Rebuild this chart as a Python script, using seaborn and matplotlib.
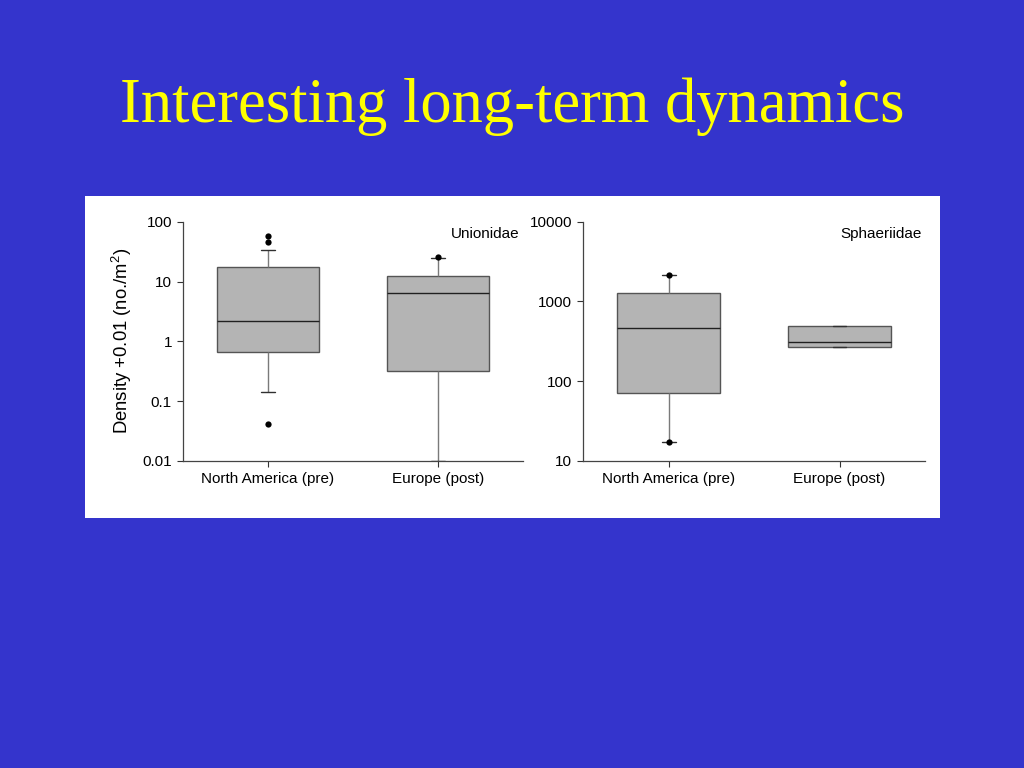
import numpy as np
import pandas as pd
import seaborn as sns
import matplotlib
matplotlib.use("Agg")
from matplotlib import pyplot as plt
from matplotlib.patches import Rectangle

# values (5 values per group: low whisker, Q1, median, Q3, high whisker)
categories = ["North America (pre)", "Europe (post)"]
union_na = [0.14, 0.67, 2.2, 17.6, 33.4]
union_eu = [0.01, 0.32, 6.4, 12.3, 25.0]
union_na_out = [58.0, 45.0, 0.042]
union_eu_out = [26.0]
sphae_na = [17.2, 70.6, 463, 1260, 2160]
sphae_eu = [272, 272, 312, 495, 495]
sphae_na_out = [17.2, 2160]
sphae_eu_out = []

BLUE = "#3434CC"
BOX_FILL = "#B4B4B4"

sns.set_style("ticks")
plt.rcParams["font.family"] = ["Liberation Sans", "DejaVu Sans"]
plt.rcParams["mathtext.fontset"] = "custom"
plt.rcParams["mathtext.rm"] = "Liberation Sans"
plt.rcParams["text.color"] = "black"
plt.rcParams["axes.labelcolor"] = "black"


def frame(na, eu):
    return pd.DataFrame({"region": [categories[0]] * len(na) + [categories[1]] * len(eu),
                         "density": list(na) + list(eu)})


def panel(ax, box, out, ylim, yticks, label):
    sns.boxplot(data=box, x="region", y="density", order=categories, ax=ax,
                log_scale=True, whis=(0, 100), showfliers=False, width=0.6,
                color=BOX_FILL, saturation=1, linecolor="#555555", linewidth=1,
                capwidths=0.08,
                medianprops={"color": "#202020"},
                whiskerprops={"color": "#7a7a7a"},
                capprops={"color": "#303030"})
    if len(out):
        sns.stripplot(data=out, x="region", y="density", order=categories, ax=ax,
                      jitter=False, color="black", size=4.5, zorder=5)
    ax.set_yscale("log")
    ax.set_ylim(*ylim)
    ax.set_yticks(yticks)
    ax.set_yticklabels([f"{t:g}" for t in yticks])
    ax.minorticks_off()
    ax.set_xlim(-0.5, 1.5)
    ax.set_xlabel("")
    ax.set_ylabel("")
    ax.tick_params(axis="both", direction="out", length=4, width=0.8,
                   color="#333333", labelsize=11, labelcolor="black", pad=4)
    for s in ["top", "right"]:
        ax.spines[s].set_visible(False)
    for s in ["left", "bottom"]:
        ax.spines[s].set_linewidth(0.9)
        ax.spines[s].set_color("#444444")
    ax.set_facecolor("white")
    ax.text(0.99, 0.95, label, transform=ax.transAxes, ha="right", va="center",
            fontsize=11, color="black")


fig = plt.figure(figsize=(10.24, 7.68), dpi=100)
fig.patch.set_facecolor(BLUE)
fig.patches.append(Rectangle((85 / 1024, 1 - 518 / 768), 855 / 1024, 322 / 768,
                             transform=fig.transFigure, facecolor="white",
                             edgecolor="none", zorder=-5))

fig.text(0.5, 1 - 122 / 768, "Interesting long-term dynamics", ha="center",
         va="baseline", color="#FFFF00", fontsize=45,
         family=["Liberation Serif", "DejaVu Serif"])

ax1 = fig.add_axes([183 / 1024, 1 - 461 / 768, 340 / 1024, 239.3 / 768])
ax2 = fig.add_axes([583.3 / 1024, 1 - 461 / 768, 341.7 / 1024, 239.3 / 768])

panel(ax1, frame(union_na, union_eu), frame(union_na_out, union_eu_out),
      (0.01, 100), [0.01, 0.1, 1, 10, 100], "Unionidae")
panel(ax2, frame(sphae_na, sphae_eu), frame(sphae_na_out, sphae_eu_out),
      (10, 10000), [10, 100, 1000, 10000], "Sphaeriidae")

ax1.set_ylabel("Density +0.01 (no./m$^{2}$)", fontsize=13.3, labelpad=6,
               color="black")

fig.savefig("out.png", dpi=100, facecolor=BLUE)
